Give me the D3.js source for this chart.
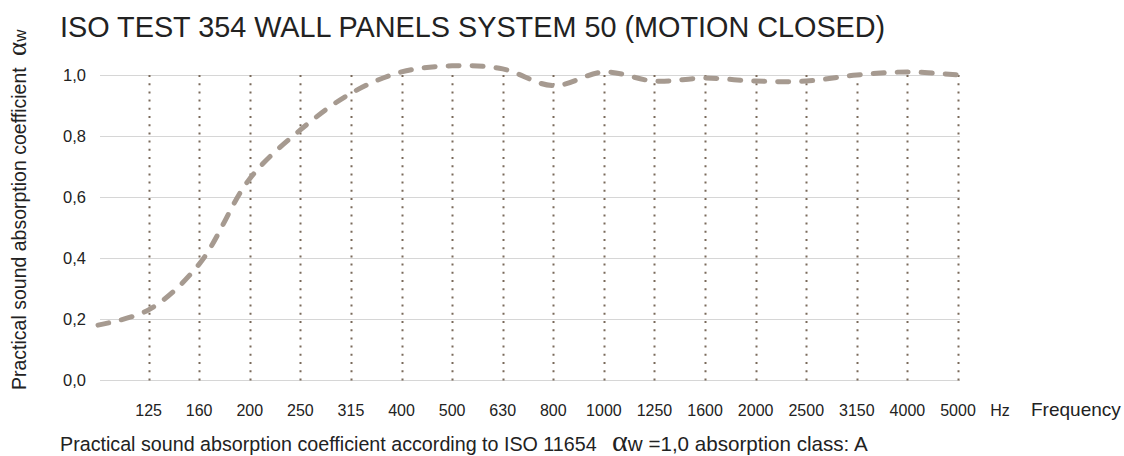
<!DOCTYPE html>
<html>
<head>
<meta charset="utf-8">
<script src="https://cdn.jsdelivr.net/npm/d3@7"></script>
<style>
  html, body { margin: 0; padding: 0; background: #fff; }
  svg { display: block; }
  text { font-family: "Liberation Sans", Arial, sans-serif; fill: #222; }
</style>
</head>
<body>
<svg id="chart" width="1124" height="456"></svg>
<script>
const frequencies = ["100","125","160","200","250","315","400","500","630","800","1000","1250","1600","2000","2500","3150","4000","5000"];
const absorption = [0.18,0.23,0.38,0.66,0.82,0.94,1.01,1.03,1.02,0.965,1.01,0.98,0.99,0.98,0.98,1.00,1.01,1.00];
const labelledFrequencies = ["125","160","200","250","315","400","500","630","800","1000","1250","1600","2000","2500","3150","4000","5000"];
const yTicks = [0,0.2,0.4,0.6,0.8,1.0];
const yTickLabels = ["0,0","0,2","0,4","0,6","0,8","1,0"];

const svg = d3.select("#chart");
const x = d3.scalePoint().domain(frequencies).range([98, 958]);
const y = d3.scaleLinear().domain([0, 1]).range([380, 75]);

// horizontal gridlines
svg.append("g").selectAll("line").data(yTicks).join("line")
  .attr("x1", 100).attr("x2", 960)
  .attr("y1", d => y(d) + 0.5).attr("y2", d => y(d) + 0.5)
  .attr("stroke", "#d6d6d6").attr("stroke-width", 1);

// y tick labels
svg.append("g").selectAll("text").data(yTicks).join("text")
  .attr("x", 86).attr("y", d => y(d) + 6)
  .attr("text-anchor", "end").attr("font-size", 16.5)
  .text((d, i) => yTickLabels[i]);

// dotted vertical lines
svg.append("g").selectAll("line").data(labelledFrequencies).join("line")
  .attr("x1", d => Math.round(x(d)) + 0.5).attr("x2", d => Math.round(x(d)) + 0.5)
  .attr("y1", y(1)).attr("y2", y(0) + 2)
  .attr("stroke", "#7a6a5b").attr("stroke-width", 2)
  .attr("stroke-dasharray", "2 6.2");

// x labels
svg.append("g").selectAll("text").data(labelledFrequencies).join("text")
  .attr("x", d => x(d)).attr("y", 416)
  .attr("text-anchor", "middle").attr("font-size", 16)
  .text(d => d);

svg.append("text").attr("x", 1000).attr("y", 416).attr("text-anchor", "middle")
  .attr("font-size", 16).text("Hz");
svg.append("text").attr("x", 1031).attr("y", 416).attr("font-size", 19).text("Frequency");

// data line
const line = d3.line()
  .x((d, i) => x(frequencies[i]))
  .y(d => y(d))
  .curve(d3.curveCatmullRom.alpha(0.5));
svg.append("path").datum(absorption)
  .attr("d", line)
  .attr("fill", "none")
  .attr("stroke", "#a69a90")
  .attr("stroke-width", 5)
  .attr("stroke-linecap", "round")
  .attr("stroke-dasharray", "11 13");

// title
svg.append("text").attr("x", 60).attr("y", 37).attr("font-size", 28.8)
  .text("ISO TEST 354 WALL PANELS SYSTEM 50 (MOTION CLOSED)");

// y-axis title
const yt = svg.append("text").attr("transform", "translate(26,390) rotate(-90)")
  .attr("font-size", 19.5);
yt.append("tspan").text("Practical sound absorption coefficient ");
yt.append("tspan").attr("dx", 6).attr("font-family", "'Liberation Serif', serif").attr("font-size", 27).text("α");
yt.append("tspan").attr("font-size", 17).text("w");

// bottom note
const bt = svg.append("text").attr("x", 60).attr("y", 451).attr("font-size", 19.7);
bt.append("tspan").text("Practical sound absorption coefficient according to ISO 11654 ");
bt.append("tspan").attr("dx", 10).attr("font-family", "'Liberation Serif', serif").attr("font-size", 30).text("α");
bt.append("tspan").attr("font-size", 20.6).text("w =1,0 absorption class: A");
</script>
</body>
</html>
